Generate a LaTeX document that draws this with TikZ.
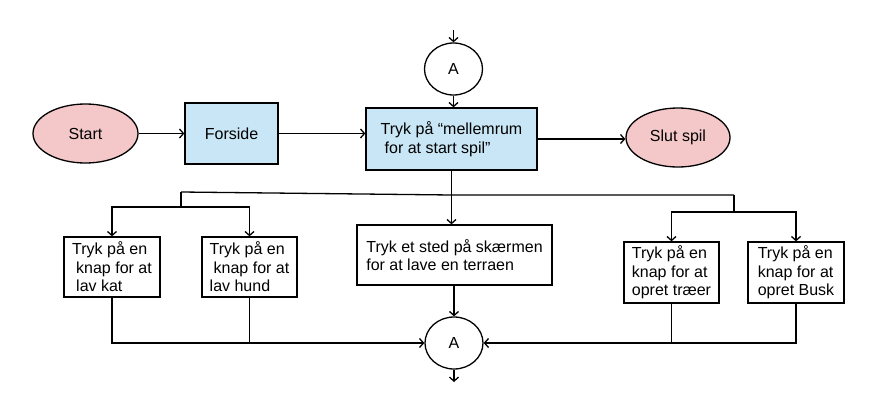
\documentclass[tikz,border=0pt]{standalone}
\usepackage{fontspec}
\setmainfont{Liberation Sans}
\usetikzlibrary{arrows.meta,shapes.geometric}
\definecolor{pinkfill}{HTML}{F4C7C9}
\definecolor{bluefill}{HTML}{C8E6F5}
\begin{document}
\begin{tikzpicture}[x=1pt,y=-1pt,
  line width=1.3pt,
  font=\fontsize{16}{18.5}\selectfont,
  term/.style={ellipse, draw, fill=pinkfill, inner sep=0pt, minimum width=105pt, minimum height=59pt},
  procbox/.style={rectangle, draw, fill=bluefill, inner sep=0pt, align=left},
  plainbox/.style={rectangle, draw, fill=white, inner sep=0pt, align=left},
  connector/.style={ellipse, draw, fill=white, inner sep=0pt, minimum width=58pt, minimum height=52pt},
  arr/.style={-{Straight Barb[length=4pt,width=9pt]}}
]
\useasboundingbox (0,0) rectangle (874,412);
\node[term] (start) at (85.5,133.5) {Start};
\node[procbox, minimum width=93pt, minimum height=61pt] (forside) at (231.5,133.5) {Forside};
\node[procbox, minimum width=171pt, minimum height=62pt] (main) at (451.5,139) {Tryk på “mellemrum\\\hspace{4pt}for at start spil”};
\node[connector] (topA) at (453.5,69) {A};
\node[term, minimum width=104pt] (slut) at (678,137.5) {Slut spil};
\node[plainbox, minimum width=96pt, minimum height=60pt] (b1) at (112,267) {Tryk på en\\\hspace{4pt}knap for at\\\hspace{4pt}lav kat};
\node[plainbox, minimum width=95pt, minimum height=60pt] (b2) at (249.5,267) {Tryk på en\\\hspace{4pt}knap for at\\lav hund};
\node[plainbox, minimum width=195pt, minimum height=60pt] (bc) at (454.5,255) {Tryk et sted på skærmen\\for at lave en terraen};
\node[plainbox, minimum width=95pt, minimum height=61pt] (b3) at (671.5,272.5) {Tryk på en\\knap for at\\opret træer};
\node[plainbox, minimum width=96pt, minimum height=61pt] (b4) at (796,272.5) {Tryk på en\\knap for at\\opret Busk};
\node[connector] (botA) at (454,343) {A};
\coordinate (topin) at (453.5,30);
\coordinate (botout) at (454,382);
\coordinate (jL) at (181,192);
\coordinate (jR) at (734,195);
\coordinate (jL2) at (181,207);
\coordinate (jR2) at (734,212);
% top row
\draw[arr] (start.east) -- (forside.west);
\draw[arr] (forside.east) -- (forside.east -| main.west);
\draw[arr] (main.east) -- (main.east -| slut.west);
\draw[arr] (topin) -- (topA.north);
\draw[arr] (topA.south) -- (topA.south |- main.north);
% branches
\draw[arr] (main.south) -- (main.south |- bc.north);
\draw (jL) -- (main.south |- jR) -- (jR);
\draw (jL) -- (jL2);
\draw[arr] (jL2) -| (b1.north);
\draw[arr] (jL2) -| (b2.north);
\draw (jR) -- (jR2);
\draw[arr] (jR2) -| (b3.north);
\draw[arr] (jR2) -| (b4.north);
% merge
\draw[arr] (bc.south -| botA.north) -- (botA.north);
\draw[arr] (b1.south) |- (botA.west);
\draw (b2.south) -- (b2.south |- botA.west);
\draw[arr] (b4.south) |- (botA.east);
\draw (b3.south) -- (b3.south |- botA.east);
\draw[arr] (botA.south) -- (botout);
\end{tikzpicture}
\end{document}
